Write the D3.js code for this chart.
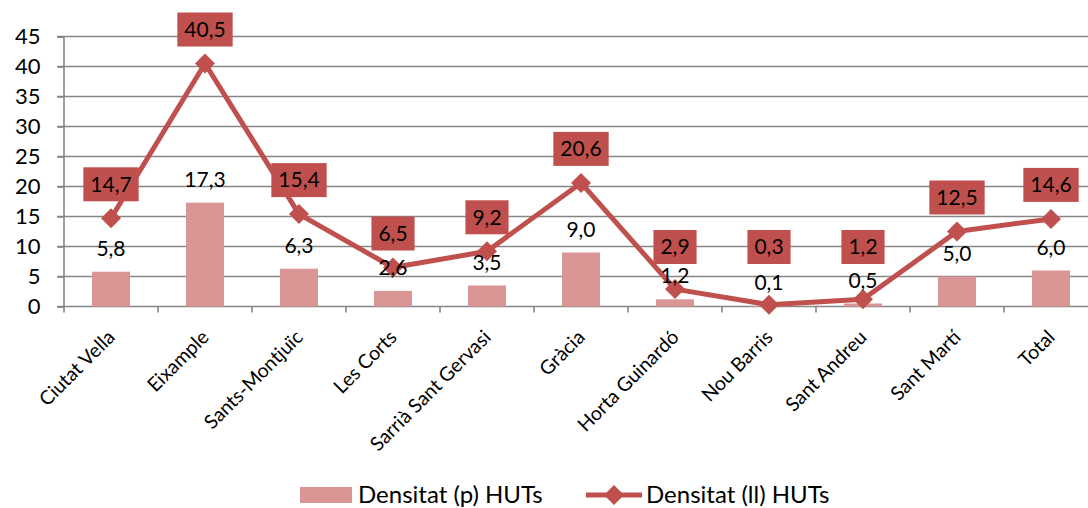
<!DOCTYPE html>
<html><head><meta charset="utf-8">
<script src="https://cdn.jsdelivr.net/npm/d3@7"></script>
<style>html,body{margin:0;padding:0;background:#fff;overflow:hidden}text{font-family:Lato,"Open Sans",sans-serif}</style>
</head><body><svg id="c" width="1088" height="508"></svg>
<script>
const categories = ["Ciutat Vella","Eixample","Sants-Montjuïc","Les Corts","Sarrià Sant Gervasi","Gràcia","Horta Guinardó","Nou Barris","Sant Andreu","Sant Martí","Total"];
const barValues = [5.8,17.3,6.3,2.6,3.5,9.0,1.2,0.1,0.5,5.0,6.0];
const lineValues = [14.7,40.5,15.4,6.5,9.2,20.6,2.9,0.3,1.2,12.5,14.6];
const yTicks = [0,5,10,15,20,25,30,35,40,45];
const seriesNames = ["Densitat (p) HUTs","Densitat (ll) HUTs"];

const fmt = v => v.toFixed(1).replace(".", ",");
const svg = d3.select("#c");
const x0 = 64, bw = 94;
const x = d3.scaleBand().domain(categories).range([x0, x0 + bw*categories.length]).paddingInner(0).paddingOuter(0);
const y = d3.scaleLinear().domain([0,45]).range([306.5,36.5]);
const grid = "#868686", red = "#C0504D", pink = "#D99694";

// gridlines
svg.append("g").selectAll("line").data(yTicks).join("line")
  .attr("x1", 57).attr("x2", 1100)
  .attr("y1", d => y(d)).attr("y2", d => y(d))
  .attr("stroke", grid).attr("stroke-width", 1.6);
// y axis
const ya = svg.append("g").attr("transform", `translate(${x0-0.5},0)`)
  .call(d3.axisLeft(y).tickValues(yTicks).tickSize(6).tickPadding(17).tickFormat(d => d));
ya.select(".domain").attr("stroke", grid).attr("stroke-width", 1.6);
ya.selectAll(".tick line").attr("stroke", grid).attr("stroke-width", 1.6);
ya.selectAll(".tick text").attr("font-size", 22).attr("fill", "#000").attr("font-family", "Lato");
// x axis ticks at band edges
const edges = categories.map(c => x(c));
svg.append("g").selectAll("line").data(edges).join("line")
  .attr("x1", d => d).attr("x2", d => d).attr("y1", y(0)).attr("y2", y(0)+6)
  .attr("stroke", grid).attr("stroke-width", 1.6);
// category labels
svg.append("g").selectAll("text").data(categories).join("text")
  .attr("transform", d => `translate(${x(d)+bw/2+5},${y(0)+32}) rotate(-45)`)
  .attr("text-anchor", "end").attr("font-size", 19.5).attr("fill", "#000").text(d => d);

// bars
const barW = 38;
svg.append("g").selectAll("rect").data(barValues).join("rect")
  .attr("x", (d,i) => x(categories[i]) + bw/2 - barW/2)
  .attr("width", barW)
  .attr("y", d => y(d)).attr("height", d => y(0) - y(d))
  .attr("fill", pink);

// line
const line = d3.line().x((d,i) => x(categories[i]) + bw/2).y(d => y(d));
svg.append("path").datum(lineValues).attr("d", line)
  .attr("fill", "none").attr("stroke", red).attr("stroke-width", 5).attr("stroke-linejoin", "round");
const diamond = (cx, cy, r) => `M${cx},${cy-r}L${cx+r},${cy}L${cx},${cy+r}L${cx-r},${cy}Z`;
svg.append("g").selectAll("path").data(lineValues).join("path")
  .attr("d", (d,i) => diamond(x(categories[i]) + bw/2, y(d), 10))
  .attr("fill", red);

// bar labels
svg.append("g").selectAll("text").data(barValues).join("text")
  .attr("x", (d,i) => x(categories[i]) + bw/2)
  .attr("y", d => y(d) - 16)
  .attr("text-anchor", "middle").attr("font-size", 21).attr("fill", "#000").text(d => fmt(d));

// line labels with boxes (kept clear of the bar labels near the baseline)
const lg = svg.append("g").selectAll("g").data(lineValues).join("g")
  .attr("transform", (d,i) => `translate(${x(categories[i]) + bw/2},${Math.min(y(d) - 34, 247)})`);
lg.append("text").attr("text-anchor", "middle").attr("dy", "0.35em")
  .attr("font-size", 21).attr("fill", "#000").text(d => fmt(d));
lg.each(function() {
  const g = d3.select(this);
  const w = g.select("text").node().getComputedTextLength();
  g.insert("rect", "text").attr("x", -w/2 - 7).attr("y", -17).attr("width", w + 14).attr("height", 34).attr("fill", red);
});

// legend
const leg = svg.append("g");
leg.append("rect").attr("x", 300).attr("y", 487).attr("width", 52).attr("height", 16).attr("fill", pink);
leg.append("text").attr("x", 358).attr("y", 495).attr("dy", "0.35em").attr("font-size", 24).attr("fill", "#000").text(seriesNames[0]);
leg.append("line").attr("x1", 586).attr("x2", 642).attr("y1", 495).attr("y2", 495).attr("stroke", red).attr("stroke-width", 5);
leg.append("path").attr("d", diamond(614, 495, 10)).attr("fill", red);
leg.append("text").attr("x", 646).attr("y", 495).attr("dy", "0.35em").attr("font-size", 24).attr("fill", "#000").text(seriesNames[1]);
</script></body></html>
